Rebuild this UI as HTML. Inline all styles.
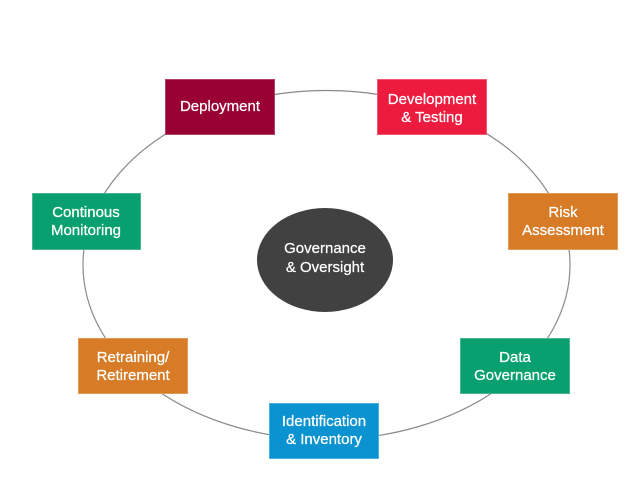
<!DOCTYPE html>
<html>
<head>
<meta charset="utf-8">
<style>
html,body{margin:0;padding:0;background:#fff;}
svg{display:block;}
text{font-family:"Liberation Sans",Arial,sans-serif;font-size:15px;fill:#fff;stroke:#fff;stroke-width:0.25px;text-anchor:middle;}
</style>
</head>
<body>
<svg width="640" height="480" viewBox="0 0 640 480" xmlns="http://www.w3.org/2000/svg">
<rect width="640" height="480" fill="#fff"/>
<ellipse cx="326.5" cy="265" rx="243.5" ry="174.5" fill="none" stroke="#8a8a8a" stroke-width="1.2"/>

<!-- center -->
<ellipse cx="325" cy="260" rx="68" ry="52" fill="#414141"/>
<text x="325" y="253">Governance</text>
<text x="325" y="272">&amp; Oversight</text>

<!-- Deployment -->
<rect x="165.5" y="79.5" width="109" height="55" fill="#990033" stroke="#b0405f" stroke-width="1"/>
<text x="220" y="111">Deployment</text>

<!-- Development -->
<rect x="377.5" y="79.5" width="109" height="55" fill="#ed1c3f" stroke="#f25a73" stroke-width="1"/>
<text x="432" y="104">Development</text>
<text x="432" y="122">&amp; Testing</text>

<!-- Continous -->
<rect x="32.5" y="193.5" width="108" height="56" fill="#07a06e" stroke="#45b68f" stroke-width="1"/>
<text x="86" y="217">Continous</text>
<text x="86" y="235">Monitoring</text>

<!-- Risk -->
<rect x="508.5" y="193.5" width="109" height="56" fill="#d87b27" stroke="#e39a58" stroke-width="1"/>
<text x="563" y="217">Risk</text>
<text x="563" y="235">Assessment</text>

<!-- Retraining -->
<rect x="78.5" y="338.5" width="109" height="55" fill="#d87b27" stroke="#e39a58" stroke-width="1"/>
<text x="133" y="362">Retraining/</text>
<text x="133" y="380">Retirement</text>

<!-- Data Governance -->
<rect x="460.5" y="338.5" width="109" height="55" fill="#07a06e" stroke="#45b68f" stroke-width="1"/>
<text x="515" y="362">Data</text>
<text x="515" y="380">Governance</text>

<!-- Identification -->
<rect x="269.5" y="403.5" width="109" height="55" fill="#0b92d1" stroke="#4eb0de" stroke-width="1"/>
<text x="324" y="426">Identification</text>
<text x="324" y="444">&amp; Inventory</text>
</svg>
</body>
</html>
